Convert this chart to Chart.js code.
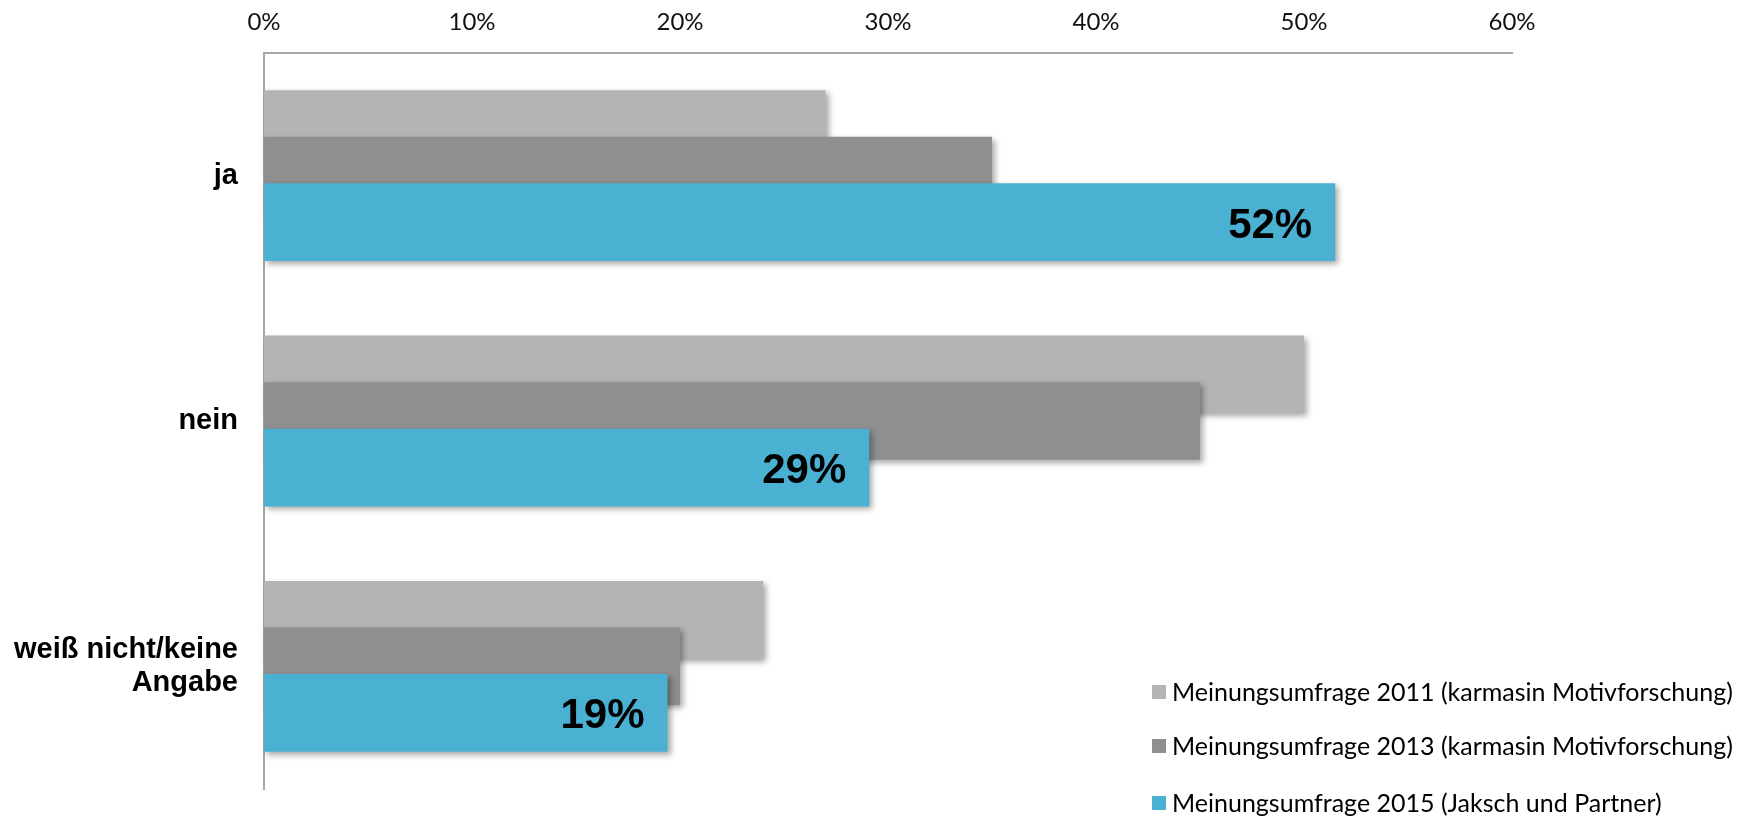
<!DOCTYPE html>
<html>
<head>
<meta charset="utf-8">
<script src="https://cdn.jsdelivr.net/npm/chart.js@4"></script>
<style>
  body { margin: 0; background: #fff; }
  #wrap { width: 1746px; height: 816px; position: relative; }
</style>
</head>
<body>
<div id="wrap"><canvas id="umfrage-Chart"></canvas></div>
<script>
const categories = ["ja", "nein", ["weiß nicht/keine", "Angabe"]];
const values2011 = [27, 50, 24];
const values2013 = [35, 45, 20];
const values2015 = [51.5, 29.1, 19.4];
const seriesNames = [
  "Meinungsumfrage 2011 (karmasin Motivforschung)",
  "Meinungsumfrage 2013 (karmasin Motivforschung)",
  "Meinungsumfrage 2015 (Jaksch und Partner)",
];
const seriesColors = ["#b4b4b4", "#8f8f8f", "#4ab1d3"];
const xTicks = [0, 10, 20, 30, 40, 50, 60];

// draw 2011 first, 2015 last so the later surveys sit on top, with a soft shadow
const overlapShadow = {
  id: "overlapShadow",
  beforeDatasetsDraw(chart) {
    const ctx = chart.ctx;
    chart.data.datasets.forEach((ds, i) => {
      ctx.save();
      ctx.shadowColor = "rgba(0, 0, 0, 0.35)";
      ctx.shadowBlur = 6;
      ctx.shadowOffsetX = 3;
      ctx.shadowOffsetY = 3;
      chart.getDatasetMeta(i).controller.draw();
      ctx.restore();
    });

    // value labels on the 2015 bars
    const meta = chart.getDatasetMeta(2);
    ctx.save();
    ctx.font = "bold 42px 'Liberation Sans', Arial, sans-serif";
    ctx.fillStyle = "#000";
    ctx.textAlign = "right";
    ctx.textBaseline = "middle";
    meta.data.forEach((bar, i) => {
      ctx.fillText(Math.round(values2015[i]) + "%", bar.x - 23, bar.y + 4);
    });
    ctx.restore();
    return false;
  },
  afterDraw(chart) {
    const ctx = chart.ctx;
    ctx.save();
    ctx.font = "25px Lato, sans-serif";
    ctx.textBaseline = "middle";
    const rows = [692, 746, 803];
    seriesNames.forEach((name, i) => {
      ctx.fillStyle = seriesColors[i];
      ctx.fillRect(1152, rows[i] - 7, 14, 14);
      ctx.fillStyle = "#000";
      ctx.fillText(name, 1172, rows[i] + 1);
    });
    ctx.restore();
  },
};

document.addEventListener("DOMContentLoaded", () => {
  const ctx = document.getElementById("umfrage-Chart");
  if (ctx) {
    new Chart(ctx, {
      type: "bar",
      data: {
        labels: categories,
        datasets: [values2011, values2013, values2015].map((vals, i) => ({
          label: seriesNames[i],
          data: vals,
          backgroundColor: seriesColors[i],
          borderWidth: 0,
          categoryPercentage: 0.569,
          barPercentage: 1.67,
        })),
      },
      options: {
        indexAxis: "y",
        responsive: true,
        maintainAspectRatio: false,
        animation: false,
        layout: { padding: { left: 0, right: 234, top: 0, bottom: 27 } },
        plugins: { legend: { display: false }, tooltip: { enabled: false } },
        scales: {
          x: {
            position: "top",
            min: 0,
            max: 60,
            afterBuildTicks: (scale) => {
              scale.ticks = xTicks.map((v) => ({ value: v }));
            },
            afterFit: (scale) => {
              scale.height = 53;
              scale.paddingLeft = 0;
              scale.paddingRight = 0;
            },
            grid: { display: false, drawTicks: false },
            border: { display: true, color: "#a6a6a6", width: 2 },
            ticks: {
              padding: 16,
              color: "#111",
              font: { family: "Lato", size: 24 },
              callback: (v) => v + "%",
            },
          },
          y: {
            afterFit: (scale) => {
              scale.width = 264;
              scale.paddingTop = 0;
              scale.paddingBottom = 0;
            },
            grid: { display: false, drawTicks: false },
            border: { display: true, color: "#a6a6a6", width: 2 },
            ticks: {
              padding: 26,
              color: "#000",
              font: { family: "'Liberation Sans', Arial", size: 29, weight: "bold", lineHeight: 1.14 },
            },
          },
        },
      },
      plugins: [overlapShadow],
    });
  } else {
    console.error("Canvas element not found");
  }
});
</script>
</body>
</html>
